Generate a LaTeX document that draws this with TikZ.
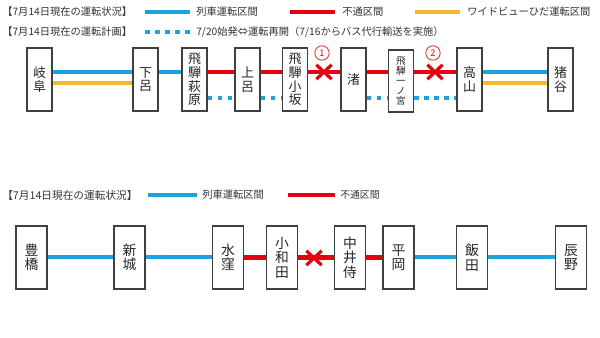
\documentclass[tikz,border=0pt]{standalone}
\usepackage{fontspec}
\setmainfont{Noto Sans CJK JP}
\usepackage{tikz}
\usetikzlibrary{shapes.misc}
\usepackage{xcolor}
\definecolor{runblue}{HTML}{1BA3DB}
\definecolor{stopred}{HTML}{E50012}
\definecolor{hidayellow}{HTML}{F6B82A}
\definecolor{markred}{HTML}{D9534F}
\tikzset{
  stn/.style={draw=black!75,line width=0.28mm,fill=white,minimum width=6.25mm,
    minimum height=15.75mm,inner sep=0pt,align=center,text=black!85,
    font=\fontsize{9.2}{9.7}\selectfont},
  stnb/.style={stn,minimum width=7.75mm,font=\fontsize{9.8}{10.3}\selectfont},
  legend/.style={anchor=west,inner sep=0pt,text=black!80,font=\fontsize{7.3}{8}\selectfont},
  runline/.style={runblue,line width=1mm},
  stopline/.style={stopred,line width=1.15mm},
  hidaline/.style={hidayellow,line width=1mm},
  planline/.style={runblue,line width=1mm,dash pattern=on 1.2mm off 1.3mm},
  cut/.style={cross out,draw=stopred,line width=0.8mm,minimum width=3mm,
    minimum height=2.8mm,inner sep=0pt},
  secnum/.style={circle,draw=markred,text=stopred,line width=0.25mm,minimum size=3.6mm,
    inner sep=0pt,font=\fontsize{6.5}{7}\selectfont}
}
\begin{document}
\begin{tikzpicture}[x=0.25mm,y=-0.25mm,line cap=butt]
\useasboundingbox (0,0) rectangle (600,338);
% legend, upper section
\node[legend] (status) at (2,12) {【7月14日現在の運転状況】};
\draw[runline] (145,12) -- (190,12);
\node[legend] (runtxt) at (196,12) {列車運転区間};
\draw[stopline] (290,12) -- (335,12);
\node[legend] (stoptxt) at (342,12) {不通区間};
\draw[hidaline] (415,12) -- (460,12);
\node[legend] (hidatxt) at (467,12) {ワイドビューひだ運転区間};
\node[legend] (plan) at (2,32) {【7月14日現在の運転計画】};
\draw[planline] (145,32) -- (192,32);
\node[legend] (plantxt) at (196,32) {7/20始発⇔運転再開（7/16からバス代行輸送を実施）};
% stations, Takayama line
\node[stn] (gifu) at (39.5,79.5) {岐\\阜};
\node[stn] (gero) at (145.5,79.5) {下\\呂};
\node[stn] (hagiwara) at (194.5,79.5) {飛\\騨\\萩\\原};
\node[stn] (jyoro) at (247.5,79.5) {上\\呂};
\node[stn] (osaka) at (295,79.5) {飛\\騨\\小\\坂};
\node[stn] (nagisa) at (353.5,79.5) {渚};
\node[stn,font=\fontsize{6.8}{7.2}\selectfont,minimum height=15.5mm] (ichinomiya) at (401,81) {飛\\騨\\一\\ノ\\宮};
\node[stn] (takayama) at (469.5,79.5) {高\\山};
\node[stn] (inotani) at (560.5,79.5) {猪\\谷};
\coordinate (upper) at (0,72);
\coordinate (lower) at (0,83);
\coordinate (bus) at (0,98);
\draw[runline] (gifu.east |- upper) -- (gero.west |- upper);
\draw[hidaline] (gifu.east |- lower) -- (gero.west |- lower);
\draw[runline] (gero.east |- upper) -- (hagiwara.west |- upper);
\draw[stopline] (hagiwara.east |- upper) -- (jyoro.west |- upper);
\draw[stopline] (jyoro.east |- upper) -- (osaka.west |- upper);
\draw[stopline] (osaka.east |- upper) -- (nagisa.west |- upper);
\draw[stopline] (nagisa.east |- upper) -- (ichinomiya.west |- upper);
\draw[stopline] (ichinomiya.east |- upper) -- (takayama.west |- upper);
\draw[runline] (takayama.east |- upper) -- (inotani.west |- upper);
\draw[hidaline] (takayama.east |- lower) -- (inotani.west |- lower);
\draw[planline] (hagiwara.east |- bus) -- (jyoro.west |- bus);
\draw[planline] (jyoro.east |- bus) -- (osaka.west |- bus);
\draw[planline] (nagisa.east |- bus) -- (ichinomiya.west |- bus);
\draw[planline] (ichinomiya.east |- bus) -- (takayama.west |- bus);
\node[cut] (cut1) at (324,72) {};
\node[cut] (cut2) at (435,72) {};
\node[secnum] (sec1) at (322,53) {1};
\node[secnum] (sec2) at (433,53) {2};
% legend, lower section
\node[legend,font=\fontsize{7.6}{8}\selectfont] (status2) at (2,195) {【7月14日現在の運転状況】};
\draw[runline] (148,195) -- (197,195);
\node[legend] (runtxt2) at (202,195) {列車運転区間};
\draw[stopline] (288,195) -- (335,195);
\node[legend,font=\fontsize{7}{8}\selectfont] (stoptxt2) at (340,195) {不通区間};
% stations, Iida line
\node[stnb] (toyohashi) at (31.5,257.5) {豊\\橋};
\node[stnb] (shinshiro) at (129.5,257.5) {新\\城};
\node[stnb] (misakubo) at (228,257.5) {水\\窪};
\node[stnb] (kowada) at (282,257.5) {小\\和\\田};
\node[stnb] (nakaizamurai) at (350,257.5) {中\\井\\侍};
\node[stnb] (hiraoka) at (398.5,257.5) {平\\岡};
\node[stnb] (iida) at (472,257.5) {飯\\田};
\node[stnb] (tatsuno) at (571,257.5) {辰\\野};
\draw[runline] (toyohashi) -- (shinshiro);
\draw[runline] (shinshiro) -- (misakubo);
\draw[stopline] (misakubo) -- (kowada);
\draw[stopline] (kowada) -- (nakaizamurai);
\draw[stopline] (nakaizamurai) -- (hiraoka);
\draw[runline] (hiraoka) -- (iida);
\draw[runline] (iida) -- (tatsuno);
\node[cut] (cut3) at (314,258) {};
\end{tikzpicture}
\end{document}
